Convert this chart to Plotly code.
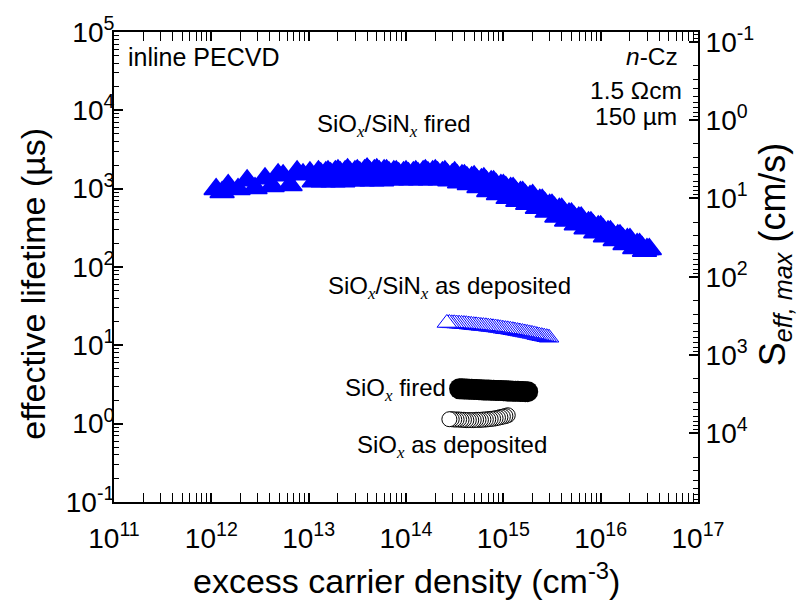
import math
import plotly.graph_objects as go

# ---------------- data ----------------
# SiOx/SiNx fired  (filled blue triangles)
n_fired = [1.12e12, 1.29e12, 1.49e12, 1.88e12, 2.33e12, 2.81e12, 3.56e12, 4.21e12, 4.85e12, 5.46e12,
           6.44e12, 7.60e12, 8.75e12, 1.03e13, 1.14e13,
           1.26e13, 1.33e13, 1.41e13, 1.50e13, 1.58e13, 1.68e13, 1.78e13, 1.88e13, 2.00e13, 2.11e13,
           2.24e13, 2.37e13, 2.51e13, 2.66e13, 2.82e13, 2.99e13, 3.16e13, 3.35e13, 3.55e13, 3.76e13,
           3.98e13, 4.22e13, 4.47e13, 4.73e13, 5.01e13, 5.31e13, 5.62e13, 5.96e13, 6.31e13, 6.68e13,
           7.08e13, 7.50e13, 7.94e13, 8.41e13, 8.91e13, 9.44e13,
           1.00e14, 1.06e14, 1.12e14, 1.19e14, 1.26e14, 1.33e14, 1.41e14, 1.50e14, 1.58e14, 1.68e14,
           1.78e14, 1.88e14, 2.00e14, 2.11e14, 2.24e14, 2.37e14, 2.51e14, 2.66e14, 2.82e14, 2.99e14,
           3.16e14, 3.35e14, 3.55e14, 3.76e14, 3.98e14, 4.22e14, 4.47e14, 4.73e14, 5.01e14, 5.31e14,
           5.62e14, 5.96e14, 6.31e14, 6.68e14, 7.08e14, 7.50e14, 7.94e14, 8.41e14, 8.91e14, 9.44e14,
           1.00e15, 1.06e15, 1.12e15, 1.19e15, 1.26e15, 1.33e15, 1.41e15, 1.50e15, 1.58e15, 1.68e15,
           1.78e15, 1.88e15, 2.00e15, 2.11e15, 2.24e15, 2.37e15, 2.51e15, 2.66e15, 2.82e15, 2.99e15,
           3.16e15, 3.35e15, 3.55e15, 3.76e15, 3.98e15, 4.22e15, 4.47e15, 4.73e15, 5.01e15, 5.31e15,
           5.62e15, 5.96e15, 6.31e15, 6.68e15, 7.08e15, 7.50e15, 7.94e15, 8.41e15, 8.91e15, 9.44e15,
           1.00e16, 1.06e16, 1.12e16, 1.19e16, 1.26e16, 1.33e16, 1.41e16, 1.50e16, 1.58e16, 1.68e16,
           1.78e16, 1.88e16, 2.00e16, 2.11e16, 2.24e16, 2.37e16, 2.51e16, 2.66e16, 2.82e16, 2.99e16,
           3.16e16]
tau_fired = [983, 901, 1103, 983, 1275, 1012, 1350, 1072, 1516, 1473,
             1103, 1653, 1516, 1606, 1238,
             1653, 1560, 1238, 1606, 1653, 1560, 1238, 1653, 1702, 1606,
             1238, 1653, 1752, 1606, 1275, 1653, 1702, 1606, 1275, 1702,
             1803, 1653, 1275, 1702, 1752, 1653, 1275, 1702, 1702, 1606,
             1312, 1653, 1653, 1560, 1312, 1606,
             1653, 1560, 1312, 1606, 1653, 1560, 1312, 1653, 1702, 1606,
             1312, 1653, 1702, 1606, 1312, 1606, 1653, 1516, 1275, 1516,
             1606, 1473, 1203, 1473, 1473, 1390, 1136, 1390, 1431, 1312,
             1041, 1312, 1350, 1238, 928, 1238, 1238, 1136, 851, 1103,
             1103, 1041, 758, 1012, 1012, 928, 695, 901, 901, 826,
             637, 803, 826, 736, 568, 715, 715, 656, 506, 619,
             619, 568, 438, 552, 552, 492, 390, 478, 478, 438,
             348, 426, 426, 379, 310, 369, 369, 338, 276, 328,
             328, 301, 246, 284, 284, 261, 219, 253, 253, 232,
             195, 226, 226, 201, 174, 195, 195, 179, 160, 169,
             169]

# SiOx/SiNx as deposited  (open blue triangles)
n_stack_dep = [2.63e14, 2.79e14, 2.95e14, 3.13e14, 3.31e14, 3.51e14, 3.72e14, 3.94e14, 4.17e14, 4.42e14,
               4.68e14, 4.96e14, 5.25e14, 5.56e14, 5.89e14, 6.24e14, 6.61e14, 7.00e14, 7.41e14, 7.85e14,
               8.32e14, 8.81e14, 9.33e14, 9.89e14, 1.05e15, 1.11e15, 1.18e15, 1.25e15, 1.32e15, 1.40e15,
               1.48e15, 1.57e15, 1.66e15, 1.76e15, 1.86e15, 1.97e15, 2.09e15, 2.21e15, 2.34e15, 2.48e15,
               2.63e15, 2.79e15, 2.95e15]
tau_stack_dep = [19.3, 19.3, 19.1, 19.1, 19.0, 18.9, 18.8, 18.7, 18.6, 18.4,
                 18.3, 18.1, 18.0, 17.9, 17.7, 17.6, 17.5, 17.3, 17.2, 17.0,
                 16.9, 16.7, 16.5, 16.3, 16.1, 16.0, 15.8, 15.6, 15.4, 15.2,
                 15.0, 14.8, 14.6, 14.4, 14.2, 14.0, 13.8, 13.5, 13.3, 13.1,
                 12.9, 12.7, 12.5]

# SiOx fired  (filled black circles)
n_ox_fired = [3.55e14, 3.76e14, 3.98e14, 4.22e14, 4.47e14, 4.73e14, 5.01e14, 5.31e14, 5.62e14, 5.96e14,
              6.31e14, 6.68e14, 7.08e14, 7.50e14, 7.94e14, 8.41e14, 8.91e14, 9.44e14, 1.00e15, 1.06e15,
              1.12e15, 1.19e15, 1.26e15, 1.33e15, 1.41e15, 1.50e15, 1.58e15, 1.68e15, 1.78e15]
tau_ox_fired = [2.79, 2.79, 2.78, 2.77, 2.76, 2.75, 2.74, 2.73, 2.72, 2.71,
                2.70, 2.70, 2.69, 2.68, 2.67, 2.66, 2.66, 2.65, 2.64, 2.63,
                2.62, 2.61, 2.60, 2.60, 2.59, 2.58, 2.57, 2.56, 2.56]

# SiOx as deposited  (open black circles)
n_ox_dep = [2.79e14, 2.95e14, 3.13e14, 3.31e14, 3.51e14, 3.72e14, 3.94e14, 4.17e14, 4.42e14, 4.68e14,
            4.96e14, 5.25e14, 5.56e14, 5.89e14, 6.24e14, 6.61e14, 7.00e14, 7.41e14, 7.85e14, 8.32e14,
            8.81e14, 9.33e14, 9.89e14, 1.05e15, 1.11e15]
tau_ox_dep = [1.14, 1.14, 1.13, 1.13, 1.13, 1.12, 1.12, 1.11, 1.11, 1.11,
              1.11, 1.12, 1.12, 1.12, 1.13, 1.13, 1.14, 1.15, 1.16, 1.17,
              1.19, 1.21, 1.23, 1.25, 1.28]

# axes
x_decades = [1e11, 1e12, 1e13, 1e14, 1e15, 1e16, 1e17]
x_ticktext = ["10<sup>11</sup>", "10<sup>12</sup>", "10<sup>13</sup>", "10<sup>14</sup>",
              "10<sup>15</sup>", "10<sup>16</sup>", "10<sup>17</sup>"]
tau_decades = [1e-1, 1e0, 1e1, 1e2, 1e3, 1e4, 1e5]
tau_ticktext = ["10<sup>-1</sup>", "10<sup>0</sup>", "10<sup>1</sup>", "10<sup>2</sup>",
                "10<sup>3</sup>", "10<sup>4</sup>", "10<sup>5</sup>"]
s_decades = [1e-1, 1e0, 1e1, 1e2, 1e3, 1e4]
s_ticktext = ["10<sup>-1</sup>", "10<sup>0</sup>", "10<sup>1</sup>", "10<sup>2</sup>",
              "10<sup>3</sup>", "10<sup>4</sup>"]

W_cm = 0.015          # wafer thickness 150 µm
tau_range = [1e-1, 1e5]

# ---------------- layout helpers ----------------
FIG_W, FIG_H = 798, 605
L, R, T, B = 114, 698, 24, 502
FONT = "Liberation Sans, Arial, Helvetica, sans-serif"
BLUE = "#0000FF"


def px(xp):
    return (xp - L) / (R - L)


def py(yp):
    return (B - yp) / (B - T)


def minor_vals(d0, d1):
    return [m * 10.0 ** d for d in range(d0, d1) for m in range(2, 10)]


SUBX = "<sub><span style='font-family:Liberation Serif, Times New Roman, serif'><i>x</i></span></sub>"

fig = go.Figure()

fig.add_trace(go.Scatter(
    x=n_fired, y=tau_fired, mode="markers", name="SiOx/SiNx fired",
    marker=dict(symbol="triangle-up", size=21, color=BLUE, line=dict(color=BLUE, width=1.5)),
    showlegend=False, hoverinfo="x+y"))

fig.add_trace(go.Scatter(
    x=n_stack_dep[::-1], y=tau_stack_dep[::-1], mode="markers", name="SiOx/SiNx as deposited",
    marker=dict(symbol="triangle-up", size=17, color="white", line=dict(color=BLUE, width=1)),
    showlegend=False, hoverinfo="x+y"))

fig.add_trace(go.Scatter(
    x=n_ox_fired, y=tau_ox_fired, mode="markers", name="SiOx fired",
    marker=dict(symbol="circle", size=21, color="black", line=dict(color="black", width=0)),
    showlegend=False, hoverinfo="x+y"))

fig.add_trace(go.Scatter(
    x=n_ox_dep[::-1], y=tau_ox_dep[::-1], mode="markers", name="SiOx as deposited",
    marker=dict(symbol="circle", size=15, color="white", line=dict(color="black", width=1)),
    showlegend=False, hoverinfo="x+y"))

# S_eff,max = W / (2 tau) on the right-hand axis (invisible companion trace)
s_fired = [W_cm / (2 * t * 1e-6) for t in tau_fired]
fig.add_trace(go.Scatter(
    x=n_fired, y=s_fired, mode="markers", yaxis="y2", marker=dict(opacity=0),
    showlegend=False, hoverinfo="skip"))

s_top = W_cm / (2 * tau_range[1] * 1e-6)
s_bot = W_cm / (2 * tau_range[0] * 1e-6)

axis_common = dict(
    type="log", showgrid=False, zeroline=False, showline=True, linecolor="black", linewidth=2,
    ticks="inside", ticklen=9, tickwidth=1.5, tickcolor="black",
    tickfont=dict(family=FONT, size=28, color="black"), tickmode="array",
)

fig.update_layout(
    width=FIG_W, height=FIG_H,
    margin=dict(l=L, r=FIG_W - R, t=T, b=FIG_H - B, pad=0),
    paper_bgcolor="white", plot_bgcolor="white",
    font=dict(family=FONT, color="black"),
    xaxis=dict(**axis_common, range=[11, 17], tickvals=x_decades, ticktext=x_ticktext,
               mirror="allticks", ticklabelstandoff=10,
               minor=dict(ticks="inside", ticklen=5, tickwidth=1, tickcolor="black",
                          tickvals=minor_vals(11, 17), showgrid=False)),
    yaxis=dict(**axis_common, range=[-1, 5], tickvals=tau_decades, ticktext=tau_ticktext,
               mirror=True, ticklabelstandoff=-8,
               minor=dict(ticks="inside", ticklen=5, tickwidth=1, tickcolor="black",
                          tickvals=minor_vals(-1, 5), showgrid=False)),
    yaxis2=dict(**axis_common, overlaying="y", side="right",
                range=[math.log10(s_bot), math.log10(s_top)],
                tickvals=s_decades, ticktext=s_ticktext,
                minor=dict(ticks="inside", ticklen=5, tickwidth=1, tickcolor="black",
                           tickvals=minor_vals(-2, 5), showgrid=False)),
)

ann_font = dict(family=FONT, size=25, color="black")
info_font = dict(family=FONT, size=24.5, color="black")
lab_font = dict(family=FONT, size=24, color="black")
title_font = dict(family=FONT, size=34, color="black")
annotations = [
    dict(text="inline PECVD", x=px(126), y=py(49), xanchor="left", yanchor="middle", font=ann_font),
    dict(text="<i>n</i>-Cz", x=px(680), y=py(49), xanchor="right", yanchor="middle", font=info_font),
    dict(text="1.5 Ωcm", x=px(684), y=py(83), xanchor="right", yanchor="middle", font=info_font),
    dict(text="150 µm", x=px(679), y=py(110), xanchor="right", yanchor="middle", font=info_font),
    dict(text="SiO" + SUBX + "/SiN" + SUBX + " fired", x=px(394), y=py(119.5), xanchor="center",
         yanchor="middle", font=lab_font),
    dict(text="SiO" + SUBX + "/SiN" + SUBX + " as deposited", x=px(449), y=py(283.5), xanchor="center",
         yanchor="middle", font=lab_font),
    dict(text="SiO" + SUBX + " fired", x=px(448), y=py(388), xanchor="right",
         yanchor="middle", font=lab_font),
    dict(text="SiO" + SUBX + " as deposited", x=px(452), y=py(446), xanchor="center",
         yanchor="middle", font=lab_font),
    # axis titles
    dict(text="excess carrier density (cm<sup>-3</sup>)", x=0.5, y=py(580), xanchor="center",
         yanchor="middle", font=title_font),
    dict(text="effective lifetime (µs)", x=px(33), y=py(280), xanchor="center", yanchor="middle",
         textangle=-90, font=title_font),
    dict(text="S<sub><i>eff, max</i></sub> (cm/s)", x=px(775), y=py(250), xanchor="center",
         yanchor="middle", textangle=-90, font=dict(family=FONT, size=36, color="black")),
]
for a in annotations:
    a.update(xref="paper", yref="paper", showarrow=False)
fig.update_layout(annotations=annotations)

fig.write_html("out.html")
